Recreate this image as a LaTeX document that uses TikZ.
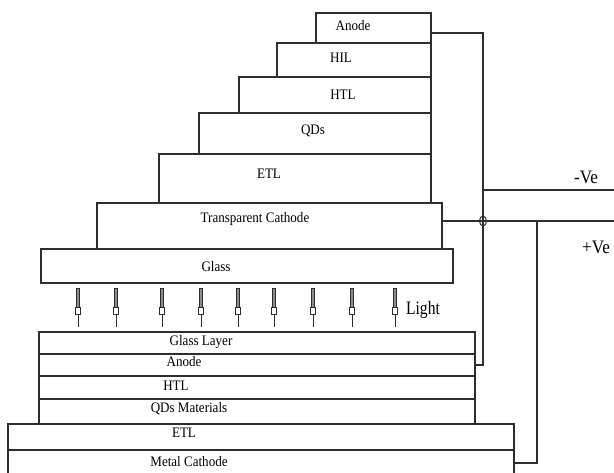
\documentclass[tikz,border=0pt]{standalone}
\usepackage{fontspec}
\usepackage{graphicx}
\setmainfont{Liberation Serif}
\definecolor{wire}{RGB}{45,45,45}
\definecolor{shaft}{RGB}{140,140,140}
\newcommand{\cnd}[1]{\scalebox{0.9}[1]{#1}}
\begin{document}
\begin{tikzpicture}[x=1pt,y=-1pt,
  layer/.style={draw=wire,line width=1.5pt,inner sep=0pt,anchor=north west},
  lbl/.style={inner sep=0pt,font=\fontsize{14.5}{15}\selectfont},
  big/.style={inner sep=0pt,font=\fontsize{19}{20}\selectfont},
  wireline/.style={draw=wire,line width=1.5pt}]
\useasboundingbox (0,0) rectangle (614,472);
% upper stack
\node[layer,minimum width=115pt,minimum height=30pt] (A1) at (315,12) {};
\node[layer,minimum width=154pt,minimum height=34pt] (HIL) at (276,42) {};
\node[layer,minimum width=192pt,minimum height=36pt] (HTL1) at (238,76) {};
\node[layer,minimum width=232pt,minimum height=41pt] (QD1) at (198,112) {};
\node[layer,minimum width=272pt,minimum height=49pt] (ETL1) at (158,153) {};
\node[layer,minimum width=345pt,minimum height=46pt] (TC) at (96,202) {};
\node[layer,minimum width=412pt,minimum height=34pt] (GL1) at (40,248) {};
% lower stack
\node[layer,minimum width=436pt,minimum height=22pt] (GL2) at (38,331) {};
\node[layer,minimum width=436pt,minimum height=22pt] (A2) at (38,353) {};
\node[layer,minimum width=436pt,minimum height=23pt] (HTL2) at (38,375) {};
\node[layer,minimum width=436pt,minimum height=25pt] (QD2) at (38,398) {};
\node[layer,minimum width=506pt,minimum height=26pt] (ETL2) at (7,423) {};
\node[layer,minimum width=506pt,minimum height=26pt] (MC) at (7,449) {};
% labels
\node[lbl] (tA1) at (353,26) {\cnd{Anode}};
\node[lbl] (tHIL) at (341,58) {\cnd{HIL}};
\node[lbl] (tHTL1) at (343,95) {\cnd{HTL}};
\node[lbl] (tQD1) at (313,131) {\cnd{QDs}};
\node[lbl] (tETL1) at (269,174) {\cnd{ETL}};
\node[lbl] (tTC) at (255,219) {\cnd{Transparent Cathode}};
\node[lbl] (tGL1) at (216,267) {\cnd{Glass}};
\node[lbl] (tGL2) at (201,342) {\cnd{Glass Layer}};
\node[lbl] (tA2) at (184,362) {\cnd{Anode}};
\node[lbl] (tHTL2) at (176,386) {\cnd{HTL}};
\node[lbl] (tQD2) at (189,409) {\cnd{QDs Materials}};
\node[lbl] (tETL2) at (184,433) {\cnd{ETL}};
\node[lbl] (tMC) at (189,462) {\cnd{Metal Cathode}};
\node[big] (tLight) at (423,310) {\scalebox{0.82}[1]{Light}};
\node[big] (tneg) at (586,177) {\scalebox{0.9}[1]{-Ve}};
\node[big] (tpos) at (596,247) {\scalebox{0.9}[1]{+Ve}};
% wiring
\coordinate (a1Out) at (430,33);
\coordinate (jA) at (483,33);
\coordinate (jN) at (483,190);
\coordinate (negEnd) at (614,190);
\coordinate (jP) at (537,221);
\coordinate (posEnd) at (614,221);
\coordinate (tcOut) at (441,221);
\draw[wireline] (a1Out) -- (jA) |- (A2.east);
\draw[wireline] (jN) -- (negEnd);
\draw[wireline] (tcOut) -- (posEnd);
\draw[wireline] (MC.east) -| (jP);
\draw[draw=wire,line width=1pt] (483,221) ellipse (3.5pt and 5pt);
% light arrows
\foreach \x in {78,116,162,201,238,274,313,352,395}{
  \filldraw[draw=wire,fill=shaft,line width=0.9pt] (\x-1.7,288) rectangle (\x+1.7,307);
  \filldraw[draw=wire,fill=white,line width=0.9pt] (\x-2.6,307) rectangle (\x+2.6,314);
  \draw[draw=wire,line width=1pt] (\x,314) -- (\x,327);
}
\end{tikzpicture}
\end{document}
